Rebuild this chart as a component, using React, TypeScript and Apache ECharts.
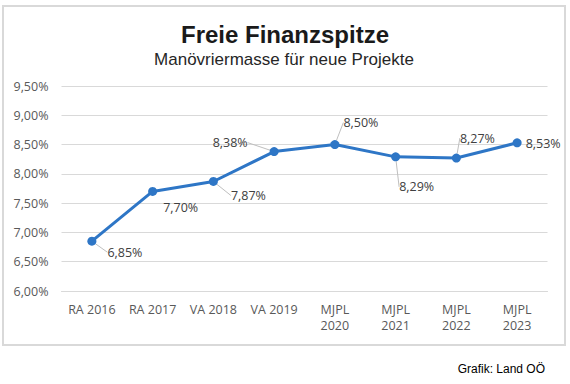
import React, { useEffect, useRef } from "react";
import * as echarts from "echarts";

const categories = ["RA 2016", "RA 2017", "VA 2018", "VA 2019", "MJPL 2020", "MJPL 2021", "MJPL 2022", "MJPL 2023"];
const values = [6.85, 7.70, 7.87, 8.38, 8.50, 8.29, 8.27, 8.53];
const yMin = 6.0;
const yMax = 9.5;
const yStep = 0.5;
const titleText = "Freie Finanzspitze";
const subtitleText = "Manövriermasse für neue Projekte";
const sourceText = "Grafik: Land OÖ";

// label offsets (dx, dy) relative to each point, and whether a leader line shows
const labelOffsets: [number, number, boolean][] = [
  [33, 11, true],
  [28, 16, false],
  [35, 14, true],
  [-44, -9, true],
  [26, -22, true],
  [21, 30, true],
  [21, -20, true],
  [26, 1, false],
];

const fmt = (v: number) => v.toFixed(2).replace(".", ",") + "%";
const FONT = "'Open Sans', sans-serif";

export default function App() {
  const ref = useRef<HTMLDivElement>(null);
  useEffect(() => {
    if (!ref.current) return;
    const chart = echarts.init(ref.current, null, { renderer: "svg" });
    chart.setOption({
      animation: false,
      backgroundColor: "#ffffff",
      graphic: [
        {
          type: "rect",
          shape: { x: 3, y: 6, width: 562, height: 339 },
          style: { fill: "none", stroke: "#d9d9d9", lineWidth: 2 },
          z: -1,
        },
        {
          type: "text",
          x: 285,
          y: 34,
          style: {
            text: titleText,
            textAlign: "center",
            textVerticalAlign: "middle",
            font: "bold 24px 'Liberation Sans', Arial, sans-serif",
            fill: "#1a1a1a",
          },
        },
        {
          type: "text",
          x: 284,
          y: 59,
          style: {
            text: subtitleText,
            textAlign: "center",
            textVerticalAlign: "middle",
            font: "17px 'Liberation Sans', Arial, sans-serif",
            fill: "#262626",
          },
        },
        {
          type: "text",
          x: 545,
          y: 369,
          style: {
            text: sourceText,
            textAlign: "right",
            textVerticalAlign: "middle",
            font: "12px 'Liberation Sans', Arial, sans-serif",
            fill: "#000000",
          },
        },
      ],
      grid: { left: 61.5, right: 22.5, top: 86, bottom: 93, containLabel: false },
      xAxis: {
        type: "category",
        data: categories,
        boundaryGap: true,
        axisLine: { show: true, lineStyle: { color: "#d9d9d9", width: 1 } },
        axisTick: { show: false },
        axisLabel: {
          margin: 10,
          color: "#595959",
          fontFamily: FONT,
          fontSize: 12.5,
          lineHeight: 16,
          interval: 0,
          formatter: (v: string) => (v.startsWith("MJPL") ? v.replace(" ", "\n") : v),
        },
      },
      yAxis: {
        type: "value",
        min: yMin,
        max: yMax,
        interval: yStep,
        axisLine: { show: false },
        axisTick: { show: false },
        splitLine: { lineStyle: { color: "#d9d9d9", width: 1 } },
        axisLabel: {
          margin: 13,
          color: "#595959",
          fontFamily: FONT,
          fontSize: 12.5,
          formatter: (v: number) => fmt(v),
        },
      },
      series: [
        {
          type: "line",
          data: values.map((v, i) => ({
            value: v,
            labelLine: { show: labelOffsets[i][2] },
          })),
          symbol: "circle",
          symbolSize: 9,
          itemStyle: { color: "#2e76c6" },
          lineStyle: { color: "#2e76c6", width: 3 },
          label: {
            show: true,
            position: "inside",
            color: "#404040",
            fontFamily: FONT,
            fontSize: 12.5,
            formatter: (p: any) => fmt(p.value),
          },
          labelLine: {
            show: true,
            lineStyle: { color: "#bfbfbf", width: 1 },
          },
          labelLayout: (p: any) => ({
            dx: labelOffsets[p.dataIndex][0],
            dy: labelOffsets[p.dataIndex][1],
          }),
        },
      ],
    });
    return () => chart.dispose();
  }, []);
  return (
    <div
      ref={ref}
      style={{ position: "fixed", left: 0, top: 0, width: 570, height: 384 }}
    />
  );
}
